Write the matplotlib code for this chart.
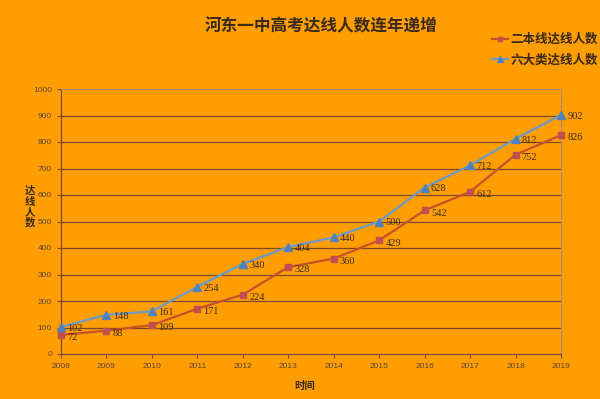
import matplotlib
matplotlib.use("Agg")
import matplotlib.pyplot as plt
from matplotlib.lines import Line2D

plt.rcParams['font.family'] = ['Noto Sans CJK SC', 'DejaVu Sans']

years = [2008, 2009, 2010, 2011, 2012, 2013, 2014, 2015, 2016, 2017, 2018, 2019]
erben = [72, 88, 109, 171, 224, 328, 360, 429, 542, 612, 752, 826]
liuda = [102, 148, 161, 254, 340, 404, 440, 500, 628, 712, 812, 902]
series_names = ["二本线达线人数", "六大类达线人数"]
title = "河东一中高考达线人数连年递增"
xlabel = "时间"
ylabel = "达线人数"
yticks = [0, 100, 200, 300, 400, 500, 600, 700, 800, 900, 1000]

bg = "#FF9E02"
grid_c = "#7A4A2A"
red_line = "#C8502A"
red_mk = "#C0504D"
blue_line = "#6C9AC8"
blue_mk = "#4F81BD"
txt = "#3A2A1A"
tick_txt = "#5A4632"

fig = plt.figure(figsize=(6.0, 3.99), dpi=100, facecolor=bg)
ax = fig.add_axes([61/600, 1-354/399, 500/600, 265/399])
ax.set_facecolor(bg)

ax.set_xlim(years[0], years[-1])
ax.set_ylim(0, 1000)
ax.set_yticks(yticks)
ax.set_xticks(years)
ax.set_xticklabels([str(y) for y in years])
for v in yticks[1:-1]:
    ax.axhline(v, color=grid_c, lw=0.9, zorder=1)

for s in ['top', 'right']:
    ax.spines[s].set_color("#B08A60")
    ax.spines[s].set_linewidth(0.8)
for s in ['left', 'bottom']:
    ax.spines[s].set_color(grid_c)
    ax.spines[s].set_linewidth(0.9)

ax.tick_params(axis='both', labelsize=6, colors=grid_c, labelcolor=tick_txt, length=3, width=0.8, direction='out')
for lab in ax.get_xticklabels() + ax.get_yticklabels():
    lab.set_family(['Liberation Sans', 'DejaVu Sans'])

ax.plot(years, erben, color=red_line, lw=1.6, marker='s', ms=4, mfc=red_mk, mec=red_mk, zorder=3, clip_on=False)
ax.plot(years, liuda, color=blue_line, lw=1.6, marker='^', ms=5.5, mfc=blue_mk, mec=blue_mk, zorder=4, clip_on=False)

for x, y in zip(years, erben):
    ax.annotate(str(y), (x, y), xytext=(4.5, -2), textcoords='offset points', fontsize=7.5,
                color=txt, va='center', ha='left', family=['Liberation Serif', 'DejaVu Serif'], zorder=5)
for x, y in zip(years, liuda):
    ax.annotate(str(y), (x, y), xytext=(4.5, -1), textcoords='offset points', fontsize=7.5,
                color=txt, va='center', ha='left', family=['Liberation Serif', 'DejaVu Serif'], zorder=5)

fig.text(321/600, 1-26/399, title, ha='center', va='center', fontsize=12, fontweight='bold', color=txt)
fig.text(305/600, 1-386/399, xlabel, ha='center', va='center', fontsize=7.5, fontweight='bold', color=txt)
fig.text(30/600, 1-207/399, "\n".join(ylabel), ha='center', va='center', fontsize=7.5, fontweight='bold',
         color=txt, linespacing=1.05)

handles = [Line2D([], [], color=red_line, lw=1.6, marker='s', ms=3.5, mfc=red_mk, mec=red_mk),
           Line2D([], [], color=blue_line, lw=1.6, marker='^', ms=4.5, mfc=blue_mk, mec=blue_mk)]
leg = fig.legend(handles, series_names, loc='upper right', bbox_to_anchor=(603/600, 1-28/399),
                 frameon=False, fontsize=9, handlelength=1.3, handletextpad=0.2, labelspacing=0.6,
                 borderaxespad=0)
for t in leg.get_texts():
    t.set_color(txt)
    t.set_fontweight('bold')

fig.savefig("out.png", dpi=100, facecolor=bg)
